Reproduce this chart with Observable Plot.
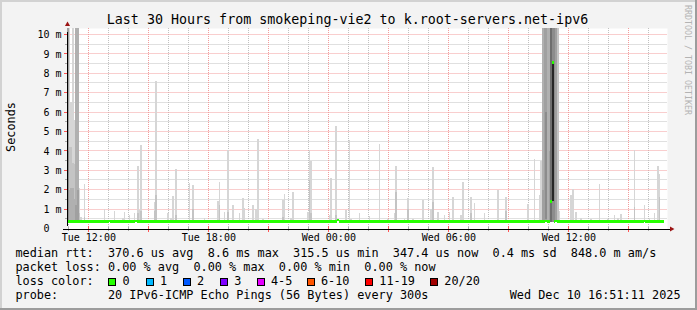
<!DOCTYPE html>
<html><head><meta charset="utf-8">
<script src="https://cdn.jsdelivr.net/npm/d3@7"></script>
<script src="https://cdn.jsdelivr.net/npm/@observablehq/plot@0.6"></script>
<style>
html,body{margin:0;padding:0;background:#f3f3f3;}
#wrap{position:relative;width:697px;height:310px;overflow:hidden;background:#f3f3f3;}
#wrap svg{position:absolute;left:0;top:0;}
.t{position:absolute;white-space:pre;font-family:"DejaVu Sans Mono",monospace;line-height:1;color:#000;}
.edge{position:absolute;}
.box{position:absolute;width:8px;height:8px;box-sizing:border-box;border:1px solid #000;}
</style></head>
<body><div id="wrap"></div>
<script>
// ---------- data ----------
const titleText = "Last 30 Hours from smokeping-vie2 to k.root-servers.net-ipv6";
const yAxisTitle = "Seconds";
const watermark = "RRDTOOL / TOBI OETIKER";
const legendRtt = "median rtt:  370.6 us avg  8.6 ms max  315.5 us min  347.4 us now  0.4 ms sd  848.0 m am/s";
const legendLoss = "packet loss: 0.00 % avg  0.00 % max  0.00 % min  0.00 % now";
const legendColorTitle = "loss color:";
const lossLabels = ["0", "1", "2", "3", "4-5", "6-10", "11-19", "20/20"];
const lossColors = ["#26ff00", "#00b8ff", "#0059ff", "#7e00ff", "#e600ff", "#ff5500", "#ff0000", "#a10000"];
const probeText = "probe:       20 IPv6-ICMP Echo Pings (56 Bytes) every 300s";
const dateText = "Wed Dec 10 16:51:11 2025";

const xTickLabels = ["Tue 12:00", "Tue 18:00", "Wed 00:00", "Wed 06:00", "Wed 12:00"];
const yTickValues = [0, 1, 2, 3, 4, 5, 6, 7, 8, 9, 10];
const yTickLabels = ["0\u00a0\u00a0", "1 m", "2 m", "3 m", "4 m", "5 m", "6 m", "7 m", "8 m", "9 m", "10 m"];

// 5-minute steps from Tue 10:56 (UTC used as wall clock)
const N_STEPS = 358;
// isolated smoke spikes: step index, max ping (ms), inner darker band top (ms, 0 = none)
const spikeStep = [10,22,28,33,34,37,40,42,43,44,52,53,60,62,63,65,73,75,78,82,88,90,91,94,96,99,103,105,106,111,113,114,117,129,130,134,135,144,145,146,148,155,157,158,161,167,169,170,175,181,187,192,196,197,202,204,207,213,218,219,222,226,229,231,236,237,242,244,250,258,263,276,280,283,302,303,305,308,314,319,324,328,330,332,340,346,349,352,354,355];
const spikeTop  = [2.3,1.0,0.9,0.55,0.85,0.7,0.82,3.22,0.95,4.3,1.38,7.6,0.82,0.55,1.67,3.05,2.36,2.24,0.45,0.55,0.45,1.43,2.41,0.85,4.05,1.21,0.82,1.55,1.04,1.21,0.99,4.6,0.5,1.47,1.78,0.55,1.9,0.87,4.05,3.5,0.45,0.45,0.7,2.59,5.3,0.95,4.56,0.5,0.78,0.64,4.36,0.47,0.78,3.22,0.47,1.55,0.47,1.47,0.99,3.15,0.87,0.7,0.87,1.64,0.7,2.41,1.64,1.33,0.78,1.98,1.64,1.26,3.57,1.72,1.72,2.02,0.87,0.55,0.5,2.29,0.5,0.7,0.55,0.75,4.05,1.21,0.55,0.78,3.22,2.81];
const spikeMid  = [0.6,0,0,0,0,0,0,0.8,0,0.9,0.9,1.72,0,0,0,0.7,0,1.0,0,0,0,0,1.2,0,0.85,0,0,0,0,0,0,0,0,0.6,0,0,0,0,2.5,0.8,0,0,0,0,0.7,0,0,0,0,0,0,0,0,1.9,0,1.0,0,0,0,1.38,0,0,0,0,0,0,0.8,0,0,0,0.9,0,0,0,0,0,0,0,0,0,0,0,0,0,1.09,0,0,0,0,1.64];
// dense smoke bands (start of graph and the Wed ~14:40 event): step, low, high (ms), density level 1..7
const blockStep  = [0,0, 1,1,1, 2,2,2, 3,3,3, 4,4,4, 5,5,5, 6,6, 7,7, 8, 284, 285,285, 286, 287,287, 288, 289,289, 290, 291,291, 292, 293, 294, 295];
const blockLo    = [0.33,0.33, 0.33,0.33,0.33, 0.33,0.33,0.33, 0.33,0.33,0.33, 0.33,0.33,0.33, 0.33,0.33,0.33, 0.33,0.33, 0.33,0.33, 0.33, 0.33, 0.33,0.33, 0.33, 0.33,0.5, 0.33, 0.33,0.4, 0.33, 0.33,1.43, 0.33, 0.33, 0.33, 0.33];
const blockHi    = [10.4,4.0, 10.4,4.2,2.0, 6.5,4.2,2.1, 10.4,3.4,2.1, 5.6,3.3,1.5, 10.4,3.3,1.2, 10.4,2.0, 2.1,0.8, 0.6, 3.5, 10.4,2.0, 10.4, 10.4,6.0, 10.4, 10.4,4.0, 10.4, 10.4,8.6, 10.4, 10.4, 10.4, 0.9];
const blockLevel = [4,5, 1,2,3, 1,2,3, 1,2,3, 1,2,3, 3,3,4, 3,4, 1,2, 1, 1, 3,4, 4, 4,5, 3, 3,4, 6, 5,7, 5, 4, 2, 1];
// median rtt runs: first step of run, median (ms)
const medianRunStart = [0, 25, 26, 41, 42, 162, 163, 287, 288, 290, 291, 292, 293, 294, 346, 347];
const medianRunValue = [0.37, 0.42, 0.37, 0.42, 0.37, 0.47, 0.37, 0.42, 0.37, 1.43, 8.6, 0.37, 0.42, 0.37, 0.42, 0.37];

// ---------- style ----------
const shade = {1: "#d6d6d6", 2: "#c4c4c4", 3: "#b0b0b0", 4: "#a0a0a0", 5: "#8c8c8c", 6: "#6e6e6e", 7: "#262626"};
const MONO = "DejaVu Sans Mono";
const minorGrid = "#c0c0c0";
const majorGrid = "#f29c9c";
const arrowColor = "#9b1414";

// ---------- derived ----------
const STEP_MS = 5 * 60 * 1000;
const tStart = new Date(Date.UTC(2025, 11, 9, 10, 56));
const tEnd = new Date(Date.UTC(2025, 11, 10, 16, 56));
const yTop = 10.335;
const W = 697, H = 250, ML = 67, MR = 30, MT = 28, MB = 21.5;
const stepT = i => new Date(tStart.getTime() + i * STEP_MS);

const spikes = spikeStep.map((s, k) => ({x1: stepT(s), x2: stepT(s + 1), top: spikeTop[k], mid: spikeMid[k]}));
const blocks = blockStep.map((s, k) => ({x1: stepT(s), x2: stepT(s + 1), lo: blockLo[k], hi: blockHi[k], fill: shade[blockLevel[k]]}));
const median = d3.range(N_STEPS).map(i => {
  let v = medianRunValue[0];
  medianRunStart.forEach((s, k) => { if (s <= i) v = medianRunValue[k]; });
  return {x1: stepT(i), x2: stepT(i + 1), v};
});

// grid values snapped to whole pixel rows (as RRDtool does) so dotted lines stay crisp
const yPix = d3.scaleLinear([0, yTop], [H - MB, MT]);
const snap = v => yPix.invert(Math.floor(yPix(v)));
const yMajor = d3.range(1, 11).map(snap);
const yMinor = d3.range(0.5, 10, 1).map(snap);

const hours = d3.utcHour.range(tStart, tEnd);
const majorHours = d3.utcHour.every(3).range(tStart, tEnd);
const majorSet = new Set(majorHours.map(d => +d));
const minorHours = hours.filter(d => !majorSet.has(+d));
const labelHours = d3.utcHour.every(6).range(tStart, tEnd).map((d, i) => ({t: d, label: xTickLabels[i]}));
const yLabels = yTickValues.map((v, i) => ({v, label: yTickLabels[i]}));

const hGrid = (vals, color) => Plot.link(vals, {
  x1: () => tStart, x2: () => tEnd, y1: d => d, y2: d => d,
  stroke: color, strokeWidth: 1, strokeDasharray: "1,1"
});

const chart = Plot.plot({
  width: W, height: H,
  marginLeft: ML, marginRight: MR, marginTop: MT, marginBottom: MB,
  x: {type: "utc", domain: [tStart, tEnd], axis: null},
  y: {domain: [0, yTop], axis: null},
  style: {background: "transparent", overflow: "visible"},
  marks: [
    Plot.frame({fill: "#ffffff", stroke: "none"}),
    // grid
    hGrid(yMinor, minorGrid),
    Plot.ruleX(minorHours, {stroke: minorGrid, strokeDasharray: "1,1", shapeRendering: "crispEdges"}),
    hGrid(yMajor, majorGrid),
    Plot.ruleX(majorHours, {stroke: majorGrid, strokeDasharray: "1,1", shapeRendering: "crispEdges"}),
    // smoke
    Plot.rect(spikes, {x1: "x1", x2: "x2", y1: 0.33, y2: "top", fill: shade[1], shapeRendering: "crispEdges", clip: true}),
    Plot.rect(spikes.filter(d => d.mid > 0), {x1: "x1", x2: "x2", y1: 0.33, y2: "mid", fill: shade[2], shapeRendering: "crispEdges", clip: true}),
    Plot.rect(blocks, {x1: "x1", x2: "x2", y1: "lo", y2: "hi", fill: "fill", shapeRendering: "crispEdges", clip: true}),
    // median rtt (loss 0 colour)
    Plot.ruleY(median, {x1: "x1", x2: "x2", y: "v", stroke: lossColors[0], strokeWidth: 2.7, shapeRendering: "crispEdges"}),
    // axis ticks
    Plot.ruleX(minorHours, {y1: 0, y2: 0, insetTop: -2, insetBottom: -2, stroke: "#aaaaaa", shapeRendering: "crispEdges"}),
    Plot.ruleX(majorHours, {y1: 0, y2: 0, insetTop: -3, insetBottom: -3, stroke: "#ff5555", shapeRendering: "crispEdges"}),
    Plot.ruleY(yMinor, {x1: () => tStart, x2: () => tStart, insetLeft: -2, stroke: "#aaaaaa"}),
    Plot.ruleY(yMajor, {x1: () => tStart, x2: () => tStart, insetLeft: -3, stroke: "#ff5555"}),
    // axes
    Plot.ruleY([0], {x1: () => tStart, x2: () => tEnd, insetLeft: -4, insetRight: -4, stroke: "#000", shapeRendering: "crispEdges"}),
    Plot.ruleX([tStart], {y1: 0, y2: yTop, insetBottom: -4, insetTop: -3, stroke: "#000", shapeRendering: "crispEdges"}),
    Plot.dot([tStart], {x: d => d, y: () => yTop, symbol: "triangle", r: 1.9, fill: arrowColor, stroke: "none", dy: -4}),
    Plot.dot([tEnd], {x: d => d, y: () => 0, symbol: "triangle", r: 1.9, rotate: 90, fill: arrowColor, stroke: "none", dx: 4}),
    // tick labels
    Plot.text(labelHours, {x: "t", y: () => 0, text: "label", dy: 9, fontFamily: MONO, fontSize: 10, fill: "#000"}),
    Plot.text(yLabels, {x: () => tStart, y: "v", text: "label", textAnchor: "end", dx: -6, fontFamily: MONO, fontSize: 10, fill: "#000"})
  ]
});

const wrap = document.getElementById("wrap");
wrap.appendChild(chart);

function edge(l, t, w, h, c) {
  const e = document.createElement("div");
  e.className = "edge";
  Object.assign(e.style, {left: l + "px", top: t + "px", width: w + "px", height: h + "px", background: c});
  wrap.appendChild(e);
}
edge(0, 0, 697, 2, "#d2d2d2");
edge(0, 0, 2, 310, "#d2d2d2");
edge(0, 308, 697, 2, "#9c9c9c");
edge(695, 0, 2, 310, "#9c9c9c");

function txt(s, left, baseline, size, extra) {
  const e = document.createElement("div");
  e.className = "t";
  e.textContent = s;
  e.style.fontSize = size + "px";
  e.style.left = left + "px";
  e.style.top = (baseline - 0.846 * size) + "px";
  if (extra) Object.assign(e.style, extra);
  wrap.appendChild(e);
  return e;
}
const LEG = 11.84;
txt(titleText, 0, 24, 13.33, {width: "695px", textAlign: "center"});
txt(legendRtt, 15.4, 258.2, LEG);
txt(legendLoss, 15.4, 272, LEG);
txt(legendColorTitle, 15.4, 285.8, LEG);
const boxX = [108.3, 145.7, 182.7, 220, 256.7, 306.7, 365, 430];
lossLabels.forEach((lab, i) => {
  const b = document.createElement("div");
  b.className = "box";
  b.style.left = boxX[i] + "px";
  b.style.top = "278.4px";
  b.style.background = lossColors[i];
  wrap.appendChild(b);
  txt(lab, boxX[i] + 14.3, 285.8, LEG);
});
txt(probeText, 15.4, 299.6, LEG);
txt(dateText, 0, 299.6, LEG, {width: "680.6px", textAlign: "right"});

// rotated texts
const s = txt(yAxisTitle, 0, 0, LEG, {width: "80px", height: "14px", lineHeight: "14px", textAlign: "center", transform: "rotate(-90deg)"});
s.style.left = (10.6 - 40) + "px"; s.style.top = (127.3 - 7) + "px";
const w = txt(watermark, 0, 0, 8.3, {width: "130px", height: "10px", lineHeight: "10px", textAlign: "center", transform: "rotate(90deg)", color: "#b3b3b3"});
w.style.left = (688.1 - 65) + "px"; w.style.top = (60 - 5) + "px";
</script>
</body></html>
